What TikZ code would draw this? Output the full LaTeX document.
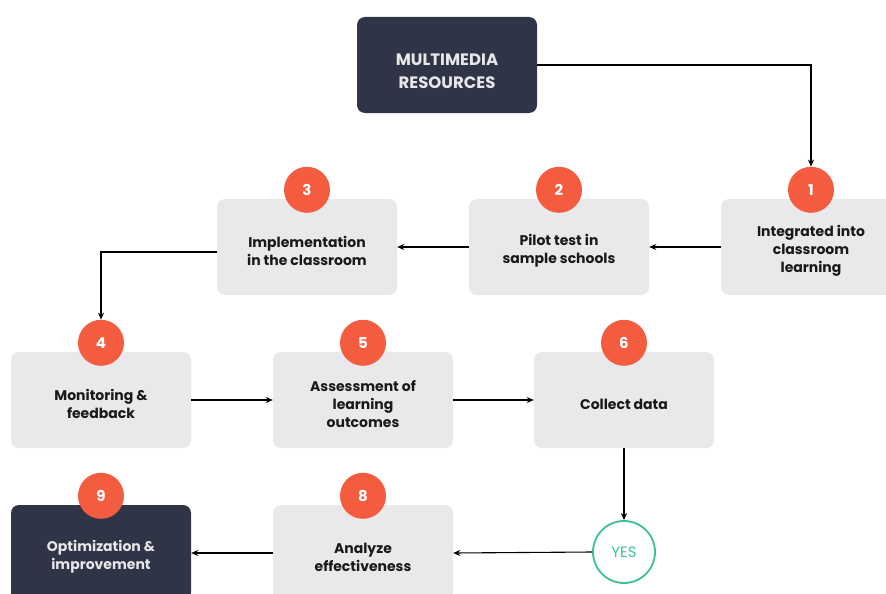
\documentclass[tikz,border=0pt]{standalone}
\usepackage{fontspec}
\setmainfont{Poppins}
\usepackage{tikz}
\usetikzlibrary{positioning}
\usetikzlibrary{arrows.meta,calc}
\usetikzlibrary{shapes}

\definecolor{navy}{HTML}{2F3547}
\definecolor{stagegray}{HTML}{E9E9EB}
\definecolor{badgered}{HTML}{F45C3F}
\definecolor{yesgreen}{HTML}{3BC28F}

\tikzset{
  stagetext/.style={align=center,yshift=-4pt,text=black!90,font=\bfseries\fontsize{14}{18}\selectfont},
  stage/.style={fill=stagegray,rounded corners=8pt,minimum width=180pt,minimum height=96pt,
    label={[stagetext]center:#1}},
  darkstage/.style={fill=navy,rounded corners=8pt,minimum width=180pt,minimum height=96pt,
    label={[stagetext,text=white!88!navy]center:#1}},
  sourcebox/.style={fill=navy,rounded corners=8pt,minimum width=180pt,minimum height=96pt,
    label={[stagetext,yshift=-2.5pt,text=white!88!navy,font=\bfseries\fontsize{16.5}{23}\selectfont]center:#1}},
  badge/.style={circle,fill=badgered,minimum size=46pt,inner sep=0pt,text=white,
    font=\bfseries\fontsize{15}{15}\selectfont},
  flow/.style={-{Stealth[length=7pt,width=6pt]},line width=1.1pt}
}

\begin{document}
\begin{tikzpicture}[x=1pt,y=-1pt]
\useasboundingbox (0,0) rectangle (886,594);
\clip (0,0) rectangle (886,594);
% stages, row by row
\node[sourcebox={MULTIMEDIA\\RESOURCES}] (src) at (447,65) {};
\node[stage={Integrated into\\classroom\\learning}] (s1) at (811,247) {};
\node[stage={Pilot test in\\sample schools}] (s2) at (559,247) {};
\node[stage={Implementation\\in the classroom}] (s3) at (307,247) {};
\node[stage={Monitoring \&\\feedback}] (s4) at (101,400) {};
\node[stage={Assessment of\\learning\\outcomes}] (s5) at (363,400) {};
\node[stage={Collect data}] (s6) at (624,400) {};
\node[stage={Analyze\\effectiveness}] (s8) at (363,553) {};
\node[darkstage={Optimization \&\\improvement}] (s9) at (101,553) {};
\node[circle,draw=yesgreen,line width=1.8pt,minimum size=62pt,inner sep=0pt,text=yesgreen,
  font=\fontsize{15}{15}\selectfont] (yes) at (624,552) {YES};
% numbered badges on top of each stage
\foreach \n in {1,2,3,4,5,6,8,9}
\node[badge,yshift=9pt] (n\n) at (s\n.north) {\n};
% connectors
\draw[flow] (src.east) -| (n1.north);
\draw[flow] (s1.west) -- (s2.east);
\draw[flow] (s2.west) -- (s3.east);
\draw[flow] ([yshift=-5pt]s3.west) -| (n4.north);
\draw[flow] (s4.east) -- (s5.west);
\draw[flow] (s5.east) -- (s6.west);
\draw[flow] (s6.south) -- (yes.north);
\draw[flow] (yes.west) -- (s8.east);
\draw[flow] (s8.west) -- (s9.east);
\end{tikzpicture}
\end{document}
